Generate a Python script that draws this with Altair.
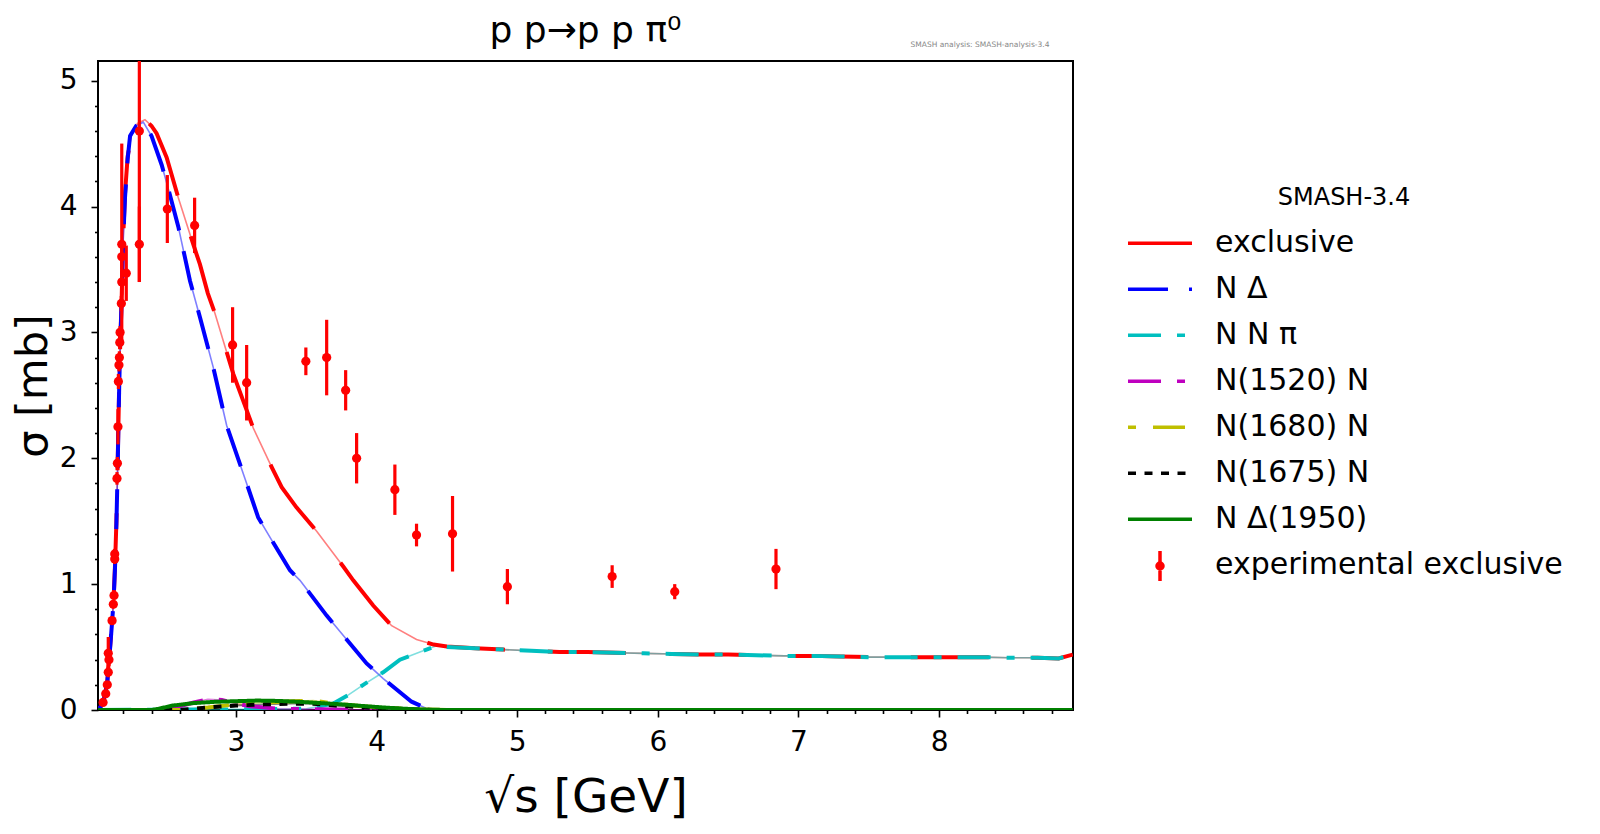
import altair as alt
import pandas as pd

# ---------------- data ----------------
series_names = ["exclusive", "N Δ", "N N π", "N(1520) N", "N(1680) N", "N(1675) N", "N Δ(1950)"]
series_colors = ["#ff0000", "#0000ff", "#00bfbf", "#bf00bf", "#bfbf00", "#000000", "#008000"]
series_dashes = [[78, 43], [40, 21], [33, 16, 8, 16], [33, 16, 8, 16], [8, 17, 32, 17], [8, 8.5], [1, 0]]

excl_x = [2.02, 2.04, 2.06, 2.074, 2.085, 2.095, 2.105, 2.12, 2.13, 2.14, 2.15, 2.157, 2.163, 2.17,
          2.178, 2.188, 2.199, 2.211, 2.23, 2.259, 2.30, 2.353, 2.40, 2.436, 2.507, 2.59, 2.673, 2.72,
          2.744, 2.80, 2.851, 2.981, 3.123, 3.254, 3.325, 3.43, 3.574, 3.763, 3.834, 3.976, 4.107,
          4.284, 4.405, 4.5, 4.7, 4.9, 5.1, 5.3, 5.5, 5.7, 5.9, 6.1, 6.3, 6.5, 6.7, 6.9, 7.1, 7.3,
          7.5, 7.7, 7.9, 8.1, 8.3, 8.5, 8.7, 8.85, 8.95]
excl_y = [0.0, 0.03, 0.08, 0.15, 0.22, 0.38, 0.5, 0.72, 0.88, 1.15, 1.5, 1.85, 2.2, 2.6,
          2.95, 3.3, 3.78, 4.10, 4.40, 4.58, 4.66, 4.69, 4.64, 4.58, 4.39, 4.07, 3.78, 3.62,
          3.54, 3.31, 3.15, 2.67, 2.24, 1.93, 1.77, 1.61, 1.42, 1.14, 1.03, 0.83, 0.67,
          0.56, 0.52, 0.505, 0.49, 0.48, 0.47, 0.46, 0.46, 0.455, 0.45, 0.445, 0.44, 0.44, 0.435, 0.43, 0.43, 0.425,
          0.42, 0.42, 0.42, 0.42, 0.42, 0.415, 0.415, 0.41, 0.44]

nd_x = [2.02, 2.04, 2.06, 2.074, 2.085, 2.095, 2.105, 2.12, 2.13, 2.14, 2.15, 2.157, 2.163, 2.17,
        2.178, 2.188, 2.199, 2.211, 2.23, 2.247, 2.29, 2.341, 2.40, 2.472, 2.519, 2.59, 2.673, 2.744,
        2.839, 2.934, 3.076, 3.158, 3.254, 3.384, 3.455, 3.645, 3.787, 3.929, 4.047, 4.249, 4.355,
        4.45, 5.0, 6.0, 7.0, 8.0, 8.95]
nd_y = [0.0, 0.03, 0.08, 0.15, 0.22, 0.37, 0.49, 0.71, 0.87, 1.13, 1.48, 1.83, 2.18, 2.58,
        2.93, 3.28, 3.75, 4.07, 4.38, 4.56, 4.64, 4.67, 4.56, 4.33, 4.14, 3.84, 3.41, 3.12,
        2.72, 2.26, 1.80, 1.53, 1.35, 1.11, 1.03, 0.75, 0.56, 0.37, 0.25, 0.066, 0.013,
        0.0, 0.0, 0.0, 0.0, 0.0, 0.0]

nnpi_x = [2.02, 2.5, 3.0, 3.5, 3.69, 3.8, 3.905, 4.047, 4.166, 4.308, 4.426, 4.5, 4.7, 4.9, 5.1, 5.3,
          5.5, 5.7, 5.9, 6.1, 6.3, 6.5, 6.7, 6.9, 7.1, 7.3, 7.5, 7.7, 7.9, 8.1, 8.3, 8.5, 8.7, 8.85, 8.95]
nnpi_y = [0.0, 0.003, 0.005, 0.01, 0.05, 0.12, 0.20, 0.30, 0.40, 0.46, 0.51, 0.50, 0.49, 0.48, 0.47, 0.46,
          0.46, 0.455, 0.45, 0.445, 0.44, 0.44, 0.435, 0.43, 0.43, 0.425, 0.42, 0.42, 0.42, 0.42, 0.42, 0.415,
          0.415, 0.41, 0.44]

n1520_x = [2.02, 2.5, 2.6, 2.7, 2.8, 2.9, 3.0, 3.1, 3.3, 3.6, 4.0, 5.0, 6.0, 7.0, 8.0, 8.95]
n1520_y = [0.0, 0.0, 0.03, 0.06, 0.085, 0.08, 0.05, 0.03, 0.01, 0.005, 0.0, 0.0, 0.0, 0.0, 0.0, 0.0]

n1680_x = [2.02, 2.6, 2.8, 3.0, 3.2, 3.4, 3.55, 3.7, 3.9, 4.1, 4.3, 4.5, 5.5, 6.5, 7.5, 8.95]
n1680_y = [0.0, 0.0, 0.02, 0.045, 0.06, 0.07, 0.075, 0.05, 0.03, 0.015, 0.005, 0.0, 0.0, 0.0, 0.0, 0.0]

n1675_x = [2.02, 2.6, 2.8, 3.0, 3.2, 3.4, 3.55, 3.7, 3.9, 4.1, 4.4, 5.5, 6.5, 7.5, 8.95]
n1675_y = [0.0, 0.0, 0.02, 0.035, 0.045, 0.05, 0.05, 0.035, 0.02, 0.01, 0.0, 0.0, 0.0, 0.0, 0.0]

nd1950_x = [2.02, 2.4, 2.45, 2.55, 2.7, 2.85, 3.0, 3.15, 3.3, 3.45, 3.6, 3.75, 3.9, 4.05, 4.2, 4.35,
            4.5, 5.5, 6.5, 7.5, 8.95]
nd1950_y = [0.0, 0.0, 0.01, 0.035, 0.055, 0.065, 0.07, 0.075, 0.072, 0.065, 0.055, 0.045, 0.032, 0.02,
            0.01, 0.003, 0.0, 0.0, 0.0, 0.0, 0.0]

exp_label = "experimental exclusive"
exp_x = [2.055, 2.074, 2.085, 2.092, 2.097, 2.092, 2.119, 2.128, 2.133, 2.138, 2.138, 2.154, 2.157,
         2.161, 2.164, 2.168, 2.171, 2.174, 2.176, 2.185, 2.188, 2.188, 2.22, 2.188, 2.313, 2.313,
         2.512, 2.706, 2.976, 3.076, 3.497, 3.645, 3.78, 3.858, 4.13, 4.284, 4.54, 4.93, 5.675,
         6.12, 6.84]
exp_y = [0.06, 0.13, 0.20, 0.30, 0.40, 0.45, 0.71, 0.84, 0.91, 1.20, 1.24, 1.84, 1.96,
         2.25, 2.61, 2.74, 2.80, 2.92, 3.00, 3.23, 3.70, 3.60, 3.47, 3.40, 4.60, 3.70,
         3.98, 3.85, 2.90, 2.60, 2.77, 2.80, 2.54, 2.00, 1.75, 1.39, 1.40, 0.98, 1.06,
         0.94, 1.12]
exp_err = [0.02, 0.02, 0.03, 0.04, 0.05, 0.13, 0.03, 0.03, 0.03, 0.04, 0.04, 0.05, 0.05,
           0.14, 0.06, 0.05, 0.05, 0.05, 0.05, 0.06, 0.80, 0.10, 0.22, 0.10, 1.20, 0.30,
           0.27, 0.22, 0.30, 0.30, 0.11, 0.30, 0.16, 0.20, 0.20, 0.09, 0.30, 0.14, 0.09,
           0.06, 0.16]

# tick positions (integers carry labels, the rest are minor ticks)
x_ticks = [2.2, 2.4, 2.6, 2.8, 3, 3.2, 3.4, 3.6, 3.8, 4, 4.2, 4.4, 4.6, 4.8, 5, 5.2, 5.4,
           5.6, 5.8, 6, 6.2, 6.4, 6.6, 6.8, 7, 7.2, 7.4, 7.6, 7.8, 8, 8.2, 8.4, 8.6, 8.8]
y_ticks = [0, 0.2, 0.4, 0.6, 0.8, 1, 1.2, 1.4, 1.6, 1.8, 2, 2.2, 2.4, 2.6, 2.8, 3, 3.2, 3.4,
           3.6, 3.8, 4, 4.2, 4.4, 4.6, 4.8, 5]

# ---------------- tables ----------------
curves = [excl_x, nd_x, nnpi_x, n1520_x, n1680_x, n1675_x, nd1950_x]
curves_y = [excl_y, nd_y, nnpi_y, n1520_y, n1680_y, n1675_y, nd1950_y]
rows = []
for i, (name, xs, ys) in enumerate(zip(series_names, curves, curves_y)):
    for xv, yv in zip(xs, ys):
        rows.append({"series": name, "order": i, "x": xv, "y": yv})
df = pd.DataFrame(rows)

exp_df = pd.DataFrame({"x": exp_x, "y": exp_y, "err": exp_err})
exp_df["lo"] = exp_df["y"] - exp_df["err"]
exp_df["hi"] = exp_df["y"] + exp_df["err"]
exp_df["label"] = exp_label

legend_names = series_names + [exp_label]
legend_colors = series_colors + ["#ff0000"]
legend_dashes = series_dashes + [[0, 100]]

FONT = "DejaVu Sans"
x_scale = alt.Scale(domain=[2.019, 8.952], nice=False, zero=False)
y_scale = alt.Scale(domain=[0, 5.156], nice=False, zero=False)
color_scale = alt.Scale(domain=legend_names, range=legend_colors)
thin_scale = alt.Scale(domain=series_names[::-1], range=series_colors[::-1])
dash_scale = alt.Scale(domain=legend_names, range=legend_dashes)

is_major = "abs(datum.value - round(datum.value)) < 0.001"
tick_len = {"condition": {"test": is_major, "value": 7}, "value": 3.5}
label_expr = "abs(datum.value - round(datum.value)) < 0.001 ? format(datum.value, 'd') : ''"

x_axis = alt.Axis(values=x_ticks, orient="bottom", title="√s [GeV]", labelExpr=label_expr,
                  tickSize=tick_len, labelFontSize=28, titleFontSize=47, labelPadding=11,
                  titlePadding=18, labelFlush=False, grid=False, domain=False)
y_axis = alt.Axis(values=y_ticks, orient="left", title="σ [mb]", labelExpr=label_expr,
                  tickSize=tick_len, labelFontSize=28, titleFontSize=43, labelPadding=14,
                  titlePadding=4, grid=False, domain=False)
x_top = alt.Axis(orient="top", labels=False, ticks=False, domain=False, grid=False,
                 title="SMASH analysis: SMASH-analysis-3.4", titleFontSize=7.5,
                 titleColor="#888888", titleFontWeight="normal", titleAlign="right",
                 titleBaseline="middle", titleX=951, titleY=-17)

legend_main = alt.Legend(title="SMASH-3.4", orient="none", legendX=1028, legendY=125,
                         titleFontSize=24, titleFontWeight="normal", titleAnchor="middle",
                         titlePadding=10.5, labelFontSize=30, labelOffset=21, labelLimit=600,
                         symbolType="stroke", symbolSize=4096, symbolStrokeWidth=3.5,
                         clipHeight=45.6, rowPadding=0, padding=0)
legend_exp = alt.Legend(title=None, orient="none", legendX=1045, legendY=488,
                        labelFontSize=30, labelExpr="''", labelLimit=600,
                        symbolType="M0,-1L0,1M0.2,0A0.2,0.2,0,1,1,-0.2,0A0.2,0.2,0,1,1,0.2,0ZM0.1,0A0.1,0.1,0,1,1,-0.1,0A0.1,0.1,0,1,1,0.1,0Z",
                        symbolSize=900, symbolFillColor="#ff0000", symbolStrokeColor="#ff0000",
                        symbolStrokeWidth=3.5, symbolOpacity=1, padding=0)

base = alt.Chart(df)
thin = base.mark_line(strokeWidth=1.6, opacity=0.5, clip=True).encode(
    x=alt.X("x:Q", scale=x_scale, axis=x_axis),
    y=alt.Y("y:Q", scale=y_scale, axis=y_axis),
    stroke=alt.Stroke("series:N", scale=thin_scale, legend=None),
    order=alt.Order("x:Q"),
)
thick = base.mark_line(strokeWidth=4, clip=True).encode(
    x=alt.X("x:Q", scale=x_scale, axis=None),
    y=alt.Y("y:Q", scale=y_scale, axis=None),
    color=alt.Color("series:N", scale=color_scale, legend=legend_main),
    strokeDash=alt.StrokeDash("series:N", scale=dash_scale, legend=legend_main),
    order=alt.Order("x:Q"),
)
errbars = alt.Chart(exp_df).mark_rule(color="#ff0000", strokeWidth=3.2, clip=True).encode(
    x=alt.X("x:Q", scale=x_scale, axis=x_top),
    y=alt.Y("lo:Q", scale=y_scale, axis=None),
    y2="hi:Q",
    opacity=alt.Opacity("label:O", scale=alt.Scale(domain=[exp_label], range=[1]), legend=legend_exp),
)
points = alt.Chart(exp_df).mark_point(filled=True, color="#ff0000", size=85, opacity=1, clip=True).encode(
    x=alt.X("x:Q", scale=x_scale, axis=None),
    y=alt.Y("y:Q", scale=y_scale, axis=None),
)

chart = alt.layer(thin, thick, errbars, points).resolve_axis(
    x="independent", y="independent"
).properties(
    width=975,
    height=649,
    title=alt.TitleParams(text="p p→p p π⁰", fontSize=36, font=FONT, fontWeight="normal",
                          anchor="middle", offset=11, dy=21, color="black"),
    autosize=alt.AutoSizeParams(type="none"),
    padding={"left": 90, "top": 53, "right": 500, "bottom": 116},
).configure_view(
    stroke="black", strokeWidth=2
).configure_axis(
    labelFont=FONT, titleFont=FONT, labelColor="black", titleColor="black",
    tickColor="black", tickWidth=1.6, titleFontWeight="normal", labelOverlap=False
).configure_legend(
    labelFont=FONT, titleFont=FONT, labelColor="black", titleColor="black"
)

chart.save("out.html", embed_options={"renderer": "svg", "actions": False})
